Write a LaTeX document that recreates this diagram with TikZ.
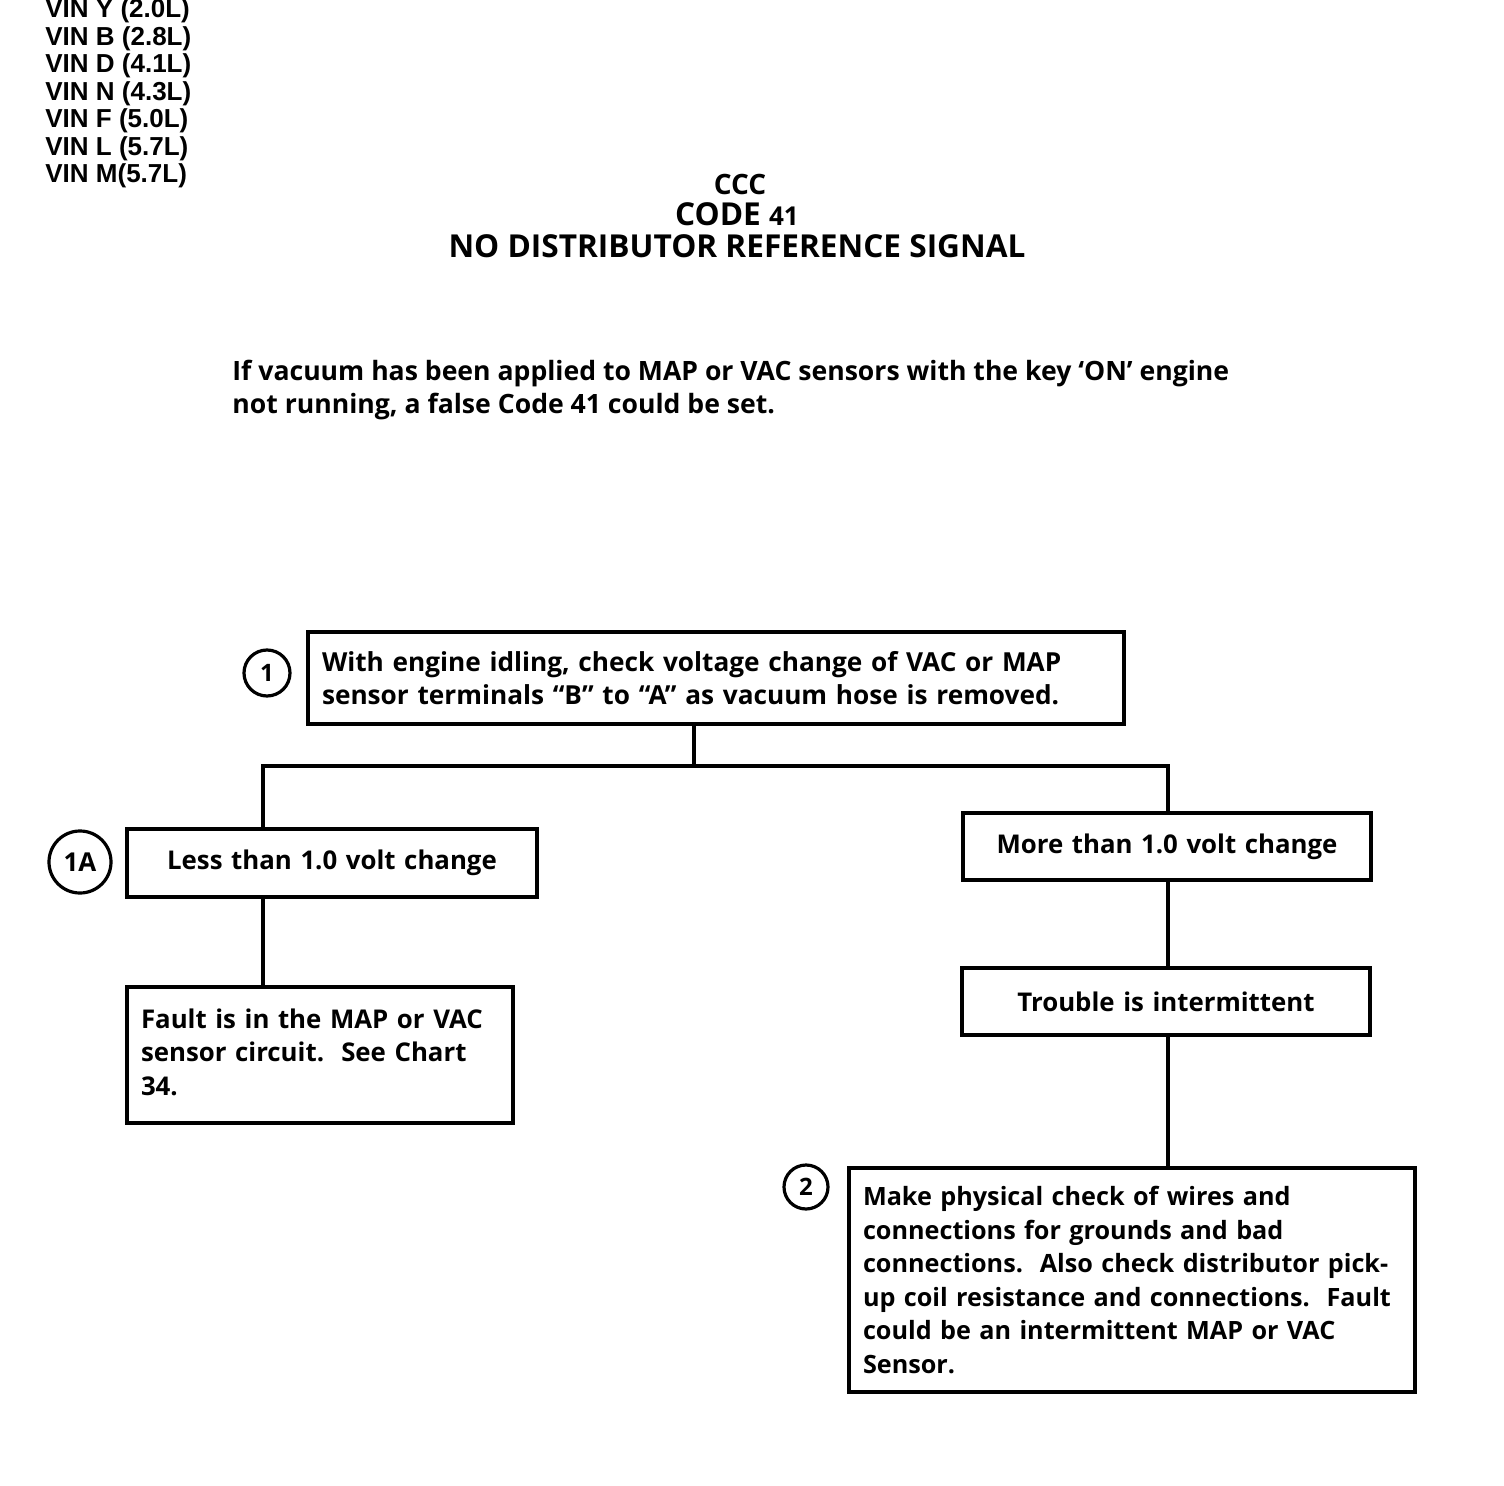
\documentclass[tikz,border=0pt]{standalone}
\usepackage{fontspec}
\setmainfont{Open Sans}
\newfontfamily\vinfont{Liberation Sans}
\usetikzlibrary{positioning}

\tikzset{
    stepbox/.style={draw, line width=2pt, rectangle, inner xsep=7pt, inner ysep=0pt,
        align=left, font=\bfseries\fontsize{12.9}{16.75}\selectfont},
    stepmark/.style={draw, line width=1.6pt, circle, inner sep=0pt,
        font=\bfseries\fontsize{12}{12}\selectfont},
    link/.style={line width=1.6pt}
}

\begin{document}
\begin{tikzpicture}[x=0.5pt, y=-0.5pt]
        \useasboundingbox (0,0) rectangle (1504,1486);

        % engine list
        \foreach \vin/\litre [count=\i from 0] in {{Y }/2.0, {B }/2.8, {D }/4.1, {N }/4.3, {F }/5.0, {L }/5.7, M/5.7}
            \node[anchor=base west, inner sep=0pt, font=\vinfont\bfseries\fontsize{13}{13.75}\selectfont]
                (vin\i) at (45,18+27.5*\i) {VIN \vin(\litre L)};

        % heading
        \node[anchor=base, inner sep=0pt, font=\bfseries\fontsize{14}{14}\selectfont] (ccc) at (740,195) {CCC};
        \node[anchor=base, inner sep=0pt, font=\bfseries\fontsize{15.8}{15.8}\selectfont] (code) at (737,226) {CODE {\fontsize{13}{13}\selectfont 41}};
        \node[anchor=base, inner sep=0pt, font=\bfseries\fontsize{15.8}{15.8}\selectfont] (title) at (737,258) {NO DISTRIBUTOR REFERENCE SIGNAL};

        \node[anchor=base west, align=left, inner sep=0pt, font=\bfseries\fontsize{13.3}{16.5}\selectfont] (note) at (232,414)
            {If vacuum has been applied to MAP or VAC sensors with the key ‘ON’ engine\\not running, a false Code 41 could be set.};

        % chart boxes
        \node[stepbox, minimum width=408pt, minimum height=46pt, text width=394pt,
              font=\bfseries\fontsize{13.1}{16.75}\selectfont] (check) at (716,678)
            {With engine idling, check voltage change of VAC or MAP\\sensor terminals “B” to “A” as vacuum hose is removed.};
        \node[stepbox, minimum width=205pt, minimum height=34pt, align=center, text width=191pt] (less) at (332,863)
            {Less than 1.0 volt change};
        \node[stepbox, minimum width=193pt, minimum height=68pt, text width=179pt] (fault) at (320,1055)
            {Fault is in the MAP or VAC\\sensor circuit.\ \ See Chart\\34.\vphantom{g}};
        \node[stepbox, minimum width=204pt, minimum height=33.5pt, align=center, text width=190pt] (more) at (1167,846.5)
            {More than 1.0 volt change};
        \node[stepbox, minimum width=204pt, minimum height=33.5pt, align=center, text width=190pt] (trouble) at (1166,1001.5)
            {Trouble is intermittent};
        \node[stepbox, minimum width=283pt, minimum height=112pt, text width=269pt,
              font=\bfseries\fontsize{12.6}{16.75}\selectfont] (physical) at (1132,1280)
            {Make physical check of wires and\\connections for grounds and bad\\connections.\ \ Also check distributor pick-\\up coil resistance and connections.\ \ Fault\\could be an intermittent MAP or VAC\\Sensor.};

        % step markers
        \node[stepmark, minimum size=23pt] (m1) at (267,673) {1};
        \node[stepmark, minimum size=31pt, font=\bfseries\fontsize{13}{13}\selectfont] (m1a) at (80,862) {1A};
        \node[stepmark, minimum size=22pt] (m2) at (806,1187) {2};

        % connectors
        \coordinate (jm) at (694,766);
        \coordinate (jl) at (263,766);
        \coordinate (jr) at (1168,766);
        \draw[link] (check.south -| jm) -- (jm);
        \draw[link] (less.north -| jl) -- (jl) -- (jr) -- (more.north -| jr);
        \draw[link] (less.south -| jl) -- (fault.north -| jl);
        \draw[link] (more.south -| jr) -- (trouble.north -| jr);
        \draw[link] (trouble.south -| jr) -- (physical.north -| jr);

    \end{tikzpicture}
\end{document}
